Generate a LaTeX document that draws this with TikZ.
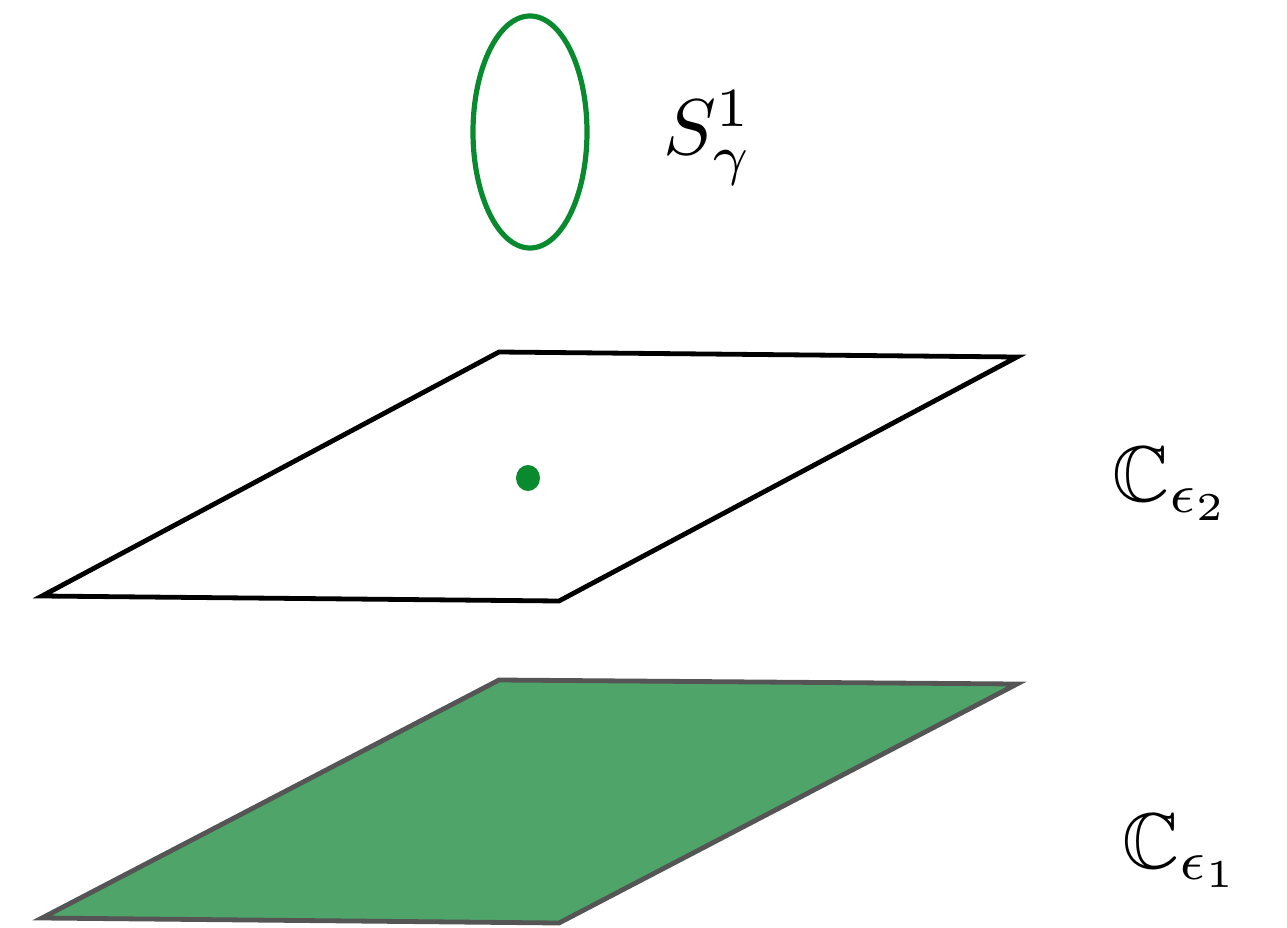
\documentclass[tikz,border=0pt]{standalone}
\usepackage{amssymb}
\begin{document}
\begin{tikzpicture}[x=1pt,y=-1pt,
  plane/.style={line width=4.8pt, line join=miter},
  lbl/.style={scale=7.9, inner sep=0pt, anchor=base west}]
\useasboundingbox (0,0) rectangle (1287,928);
\definecolor{circgreen}{HTML}{0A8A2E}
\definecolor{planegreen}{HTML}{4FA469}
\definecolor{edgegray}{HTML}{555555}
% circle S^1
\draw[circgreen, line width=5.2pt] (530,132) ellipse [x radius=57, y radius=116];
\node[lbl] (s) at (662,155) {$S^1_\gamma$};
% top plane
\coordinate (a1) at (499,352);
\coordinate (b1) at (1017,357);
\coordinate (c1) at (559,601);
\coordinate (d1) at (42,596);
\draw[plane, black] (a1) -- (b1) -- (c1) -- (d1) -- cycle;
\fill[circgreen] (528,478) ellipse [x radius=12, y radius=13];
\node[lbl] (c2) at (1111,501) {$\mathbb{C}_{\epsilon_2}$};
% bottom plane
\coordinate (a2) at (499,680);
\coordinate (b2) at (1017,684);
\coordinate (c2p) at (559,923);
\coordinate (d2) at (42,918);
\draw[plane, edgegray, fill=planegreen] (a2) -- (b2) -- (c2p) -- (d2) -- cycle;
\node[lbl] (c1l) at (1121,868) {$\mathbb{C}_{\epsilon_1}$};
\end{tikzpicture}
\end{document}
